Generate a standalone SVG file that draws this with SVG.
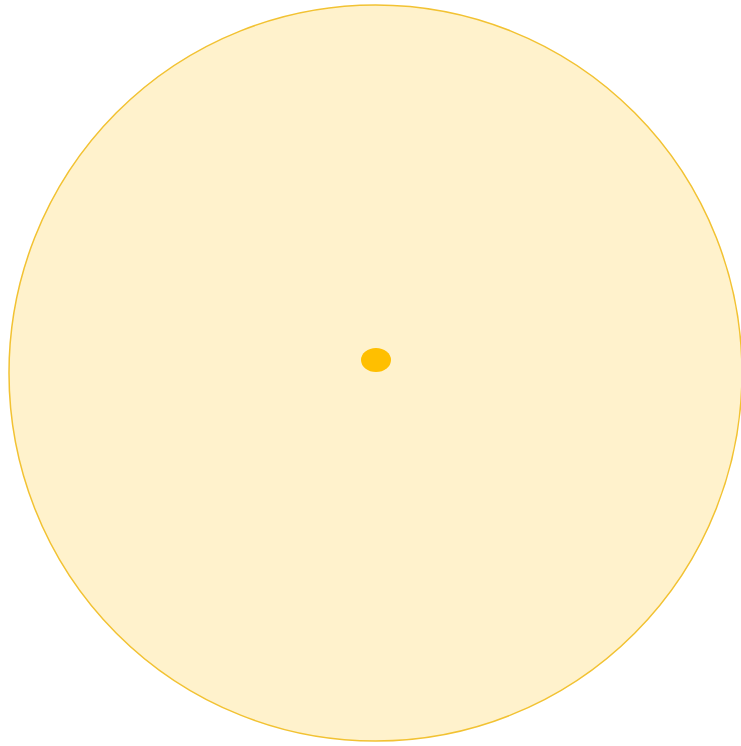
<svg xmlns="http://www.w3.org/2000/svg" width="741" height="746" viewBox="0 0 741 746">
<style>
.big{fill:#FFF2CC;stroke:#F2C232;stroke-width:1.5}
.dot{fill:#FFBF00;stroke:none}
</style>
<rect width="741" height="746" fill="#FFFFFF"/>
<g id="outer-circle">
<ellipse class="big" cx="375.5" cy="373" rx="366.5" ry="368"/>
</g>
<g id="center-point">
<ellipse class="dot" cx="376" cy="360" rx="15" ry="12"/>
</g>
<g id="connectors"></g>
</svg>
